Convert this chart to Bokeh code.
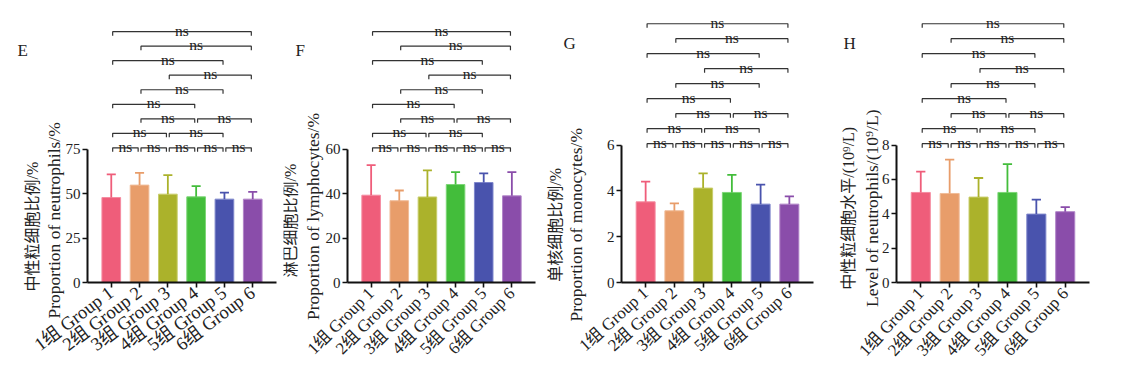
import math
from bokeh.plotting import figure
from bokeh.layouts import row
from bokeh.models import Label, FixedTicker, Range1d, LinearAxis
from bokeh.embed import file_html
from bokeh.resources import INLINE
from bokeh.core.properties import value

# ---------------- data ----------------
groups = ["1组 Group 1", "2组 Group 2", "3组 Group 3", "4组 Group 4", "5组 Group 5", "6组 Group 6"]
colors = ["#EF5D7A", "#E89D6A", "#ABB22B", "#43BD3B", "#4953AD", "#8A4DAA"]
edge_colors = ["#F58CA1", "#F0BC98", "#C8CD6A", "#7CD676", "#7F87CC", "#B184C8"]

e_mean = [47.8, 54.8, 49.7, 48.2, 46.9, 46.9]
e_sd = [13.0, 6.9, 10.7, 6.0, 3.7, 4.1]
e_ticks = [0, 25, 50, 75]

f_mean = [39.3, 36.8, 38.5, 44.1, 45.0, 39.0]
f_sd = [13.5, 4.6, 12.0, 5.6, 4.1, 10.7]
f_ticks = [0, 20, 40, 60]

g_mean = [3.52, 3.13, 4.12, 3.93, 3.42, 3.42]
g_sd = [0.88, 0.32, 0.64, 0.77, 0.85, 0.34]
g_ticks = [0, 2, 4, 6]

h_mean = [5.24, 5.18, 4.97, 5.24, 3.98, 4.12]
h_sd = [1.21, 1.97, 1.11, 1.65, 0.84, 0.27]
h_ticks = [0, 2, 4, 6, 8]

# pairwise comparisons, by bracket level (bottom to top)
comparisons = [
    [(0, 1), (1, 2), (2, 3), (3, 4), (4, 5)],
    [(0, 2), (2, 4)],
    [(1, 3), (3, 5)],
    [(0, 3)],
    [(1, 4)],
    [(2, 5)],
    [(0, 4)],
    [(1, 5)],
    [(0, 5)],
]
sig_label = "ns"

# ---------------- style / layout ----------------
SERIF = "Liberation Serif"
MIXED = "'Liberation Serif', 'Noto Sans CJK SC'"
TXT = "#222222"
PAD = 0.84          # x padding (group units) between axis ends and outer bars
FIG_H = 362
ZERO_Y = 282        # pixel row of y = 0 (from top)


def make_panel(letter, zh, en, means, sds, yticks, lay):
    ymax = yticks[-1]
    ppu = lay["axis_px"] / ymax                 # px per y unit
    ppx = lay["fw"] / (5 + 2 * PAD)             # px per group
    x0 = -PAD - lay["left"] / ppx
    x1 = x0 + lay["W"] / ppx
    y0 = -(FIG_H - ZERO_Y) / ppu
    y1 = ZERO_Y / ppu
    p = figure(width=lay["W"], height=FIG_H,
               x_range=Range1d(x0, x1), y_range=Range1d(y0, y1),
               x_axis_location=None, y_axis_location=None,
               output_backend="svg", toolbar_location=None,
               min_border_left=0, min_border_right=0,
               min_border_top=0, min_border_bottom=0)
    p.outline_line_color = None
    p.grid.visible = False

    x = list(range(len(groups)))
    p.vbar(x=x, top=means, bottom=0, width=0.66, fill_color=colors,
           line_color=edge_colors, line_width=1)
    upper = [m + s for m, s in zip(means, sds)]
    p.segment(x0=x, y0=means, x1=x, y1=upper, line_color=colors, line_width=1.8)
    p.segment(x0=[i - 0.16 for i in x], y0=upper, x1=[i + 0.16 for i in x], y1=upper,
              line_color=colors, line_width=1.8)

    # significance brackets
    tick = 4.0 / ppu
    gap = 1.5 / ppu
    inset = 0.05
    bx, by, tx, ty = [], [], [], []
    for k, pairs in enumerate(comparisons):
        yv = ymax * (1.01 + 0.109 * k)
        for (i, j) in pairs:
            bx.append([i + inset, i + inset, j - inset, j - inset])
            by.append([yv - tick, yv, yv, yv - tick])
            tx.append((i + j) / 2)
            ty.append(yv + gap)
    p.multi_line(xs=bx, ys=by, line_color="#333333", line_width=1.2)
    p.text(x=tx, y=ty, text=[sig_label] * len(tx), text_font=value(SERIF),
           text_font_size="15.5px", text_align="center", text_baseline="alphabetic",
           text_color=TXT)

    # axes placed at data locations
    yax = LinearAxis(fixed_location=-PAD, bounds=(0, ymax), ticker=FixedTicker(ticks=yticks))
    xax = LinearAxis(fixed_location=0, bounds=(-PAD, 5 + PAD), ticker=FixedTicker(ticks=x),
                     major_label_overrides={i: g for i, g in enumerate(groups)},
                     major_label_orientation=math.radians(lay["xrot"]))
    for ax in (xax, yax):
        ax.axis_line_width = 2
        ax.axis_line_color = "#111111"
        ax.major_tick_line_width = 1.6
        ax.major_tick_line_color = "#111111"
        ax.major_tick_in = 0
        ax.major_tick_out = 5
        ax.minor_tick_line_color = None
        ax.major_label_text_color = TXT
    yax.major_label_text_font = SERIF
    xax.major_label_text_font = MIXED
    yax.major_label_text_font_size = "15px"
    xax.major_label_text_font_size = lay["xfs"]
    yax.major_label_standoff = 2
    xax.major_label_standoff = 3
    p.add_layout(yax, "left")
    p.add_layout(xax, "below")

    # axis titles (two lines) and panel letter
    p.add_layout(Label(x=-PAD, y=ymax * lay["zh_y"], x_offset=-lay["zh_off"], text=zh,
                       angle=90, angle_units="deg", text_align="center",
                       text_baseline="middle", text_font=MIXED,
                       text_font_size="16px", text_color=TXT))
    p.add_layout(Label(x=-PAD, y=ymax * lay["en_y"], x_offset=-lay["en_off"], text=en,
                       angle=90, angle_units="deg", text_align="center",
                       text_baseline="middle", text_font=SERIF,
                       text_font_size="17.5px", text_color=TXT))
    p.add_layout(Label(x=-PAD, y=ymax * 1.74, x_offset=-lay["let_off"], text=letter,
                       text_align="left", text_baseline="middle", text_font=SERIF,
                       text_font_size="17px", text_color=TXT))
    return p


pE = make_panel("E", "中性粒细胞比例/%", "Proportion of neutrophils/%", e_mean, e_sd, e_ticks,
                dict(axis_px=133.3, fw=189, left=87, W=283, zh_off=55, en_off=34,
                     zh_y=0.42, en_y=0.466, let_off=70, xrot=37, xfs="18.5px"))
pF = make_panel("F", "淋巴细胞比例/%", "Proportion of lymphocytes/%", f_mean, f_sd, f_ticks,
                dict(axis_px=133.3, fw=188, left=64, W=262, zh_off=57, en_off=35,
                     zh_y=0.465, en_y=0.495, let_off=52, xrot=45, xfs="17px"))
pG = make_panel("G", "单核细胞比例/%", "Proportion of monocytes/%", g_mean, g_sd, g_ticks,
                dict(axis_px=137.5, fw=192, left=76, W=283, zh_off=66, en_off=46,
                     zh_y=0.42, en_y=0.42, let_off=58, xrot=42, xfs="17px"))
pH = make_panel("H", "中性粒细胞水平/(10⁹/L)", "Level of neutrophils/(10⁹/L)", h_mean, h_sd, h_ticks,
                dict(axis_px=137.5, fw=193, left=68, W=287, zh_off=48, en_off=25,
                     zh_y=0.54, en_y=0.54, let_off=53, xrot=47, xfs="17px"))

layout = row(pE, pF, pG, pH)
open("out.html", "w").write(file_html(layout, INLINE))
